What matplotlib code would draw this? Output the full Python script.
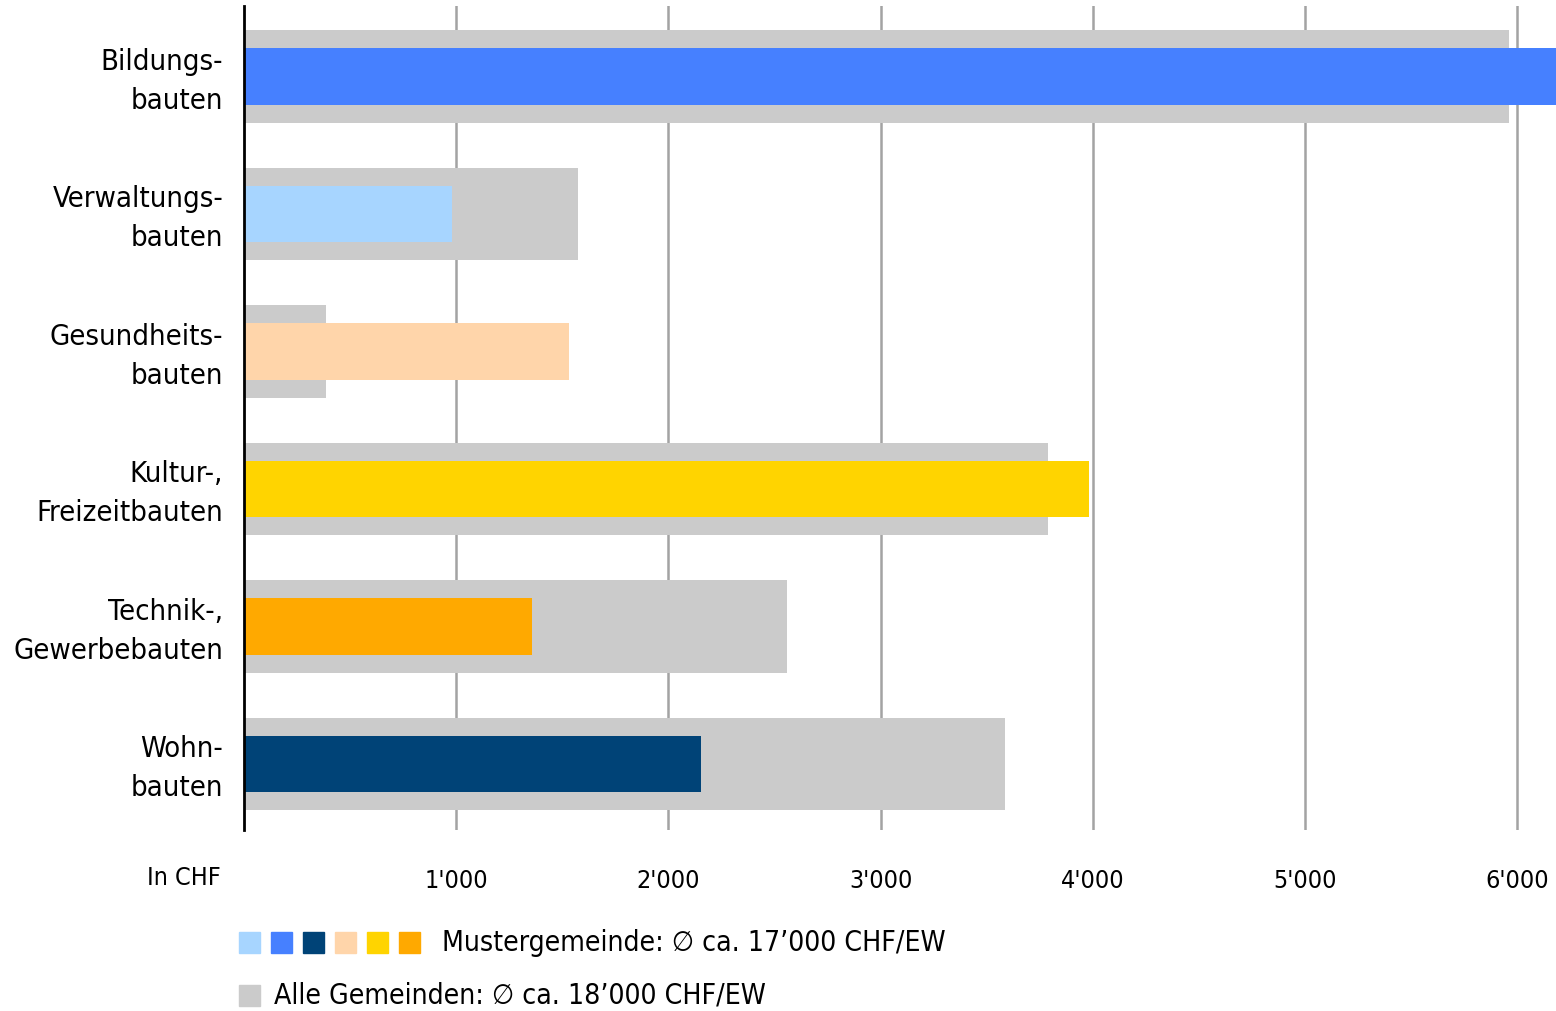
import matplotlib
matplotlib.use("Agg")
import matplotlib.pyplot as plt
import matplotlib.transforms as mtransforms
from matplotlib import font_manager
from matplotlib.patches import Rectangle

# schmale Schrift nehmen, falls vorhanden
schmal = None
for f in font_manager.fontManager.ttflist:
    if f.stretch in ('condensed', 'semi-condensed', 'extra-condensed') or \
            'Narrow' in f.name or 'Condensed' in f.name:
        schmal = f
        break

if schmal is not None:
    plt.rcParams['font.family'] = [schmal.name, 'DejaVu Sans']
    plt.rcParams['font.stretch'] = schmal.stretch
    fs_kat, fs_tick, fs_leg = 21, 18, 20.3
else:
    plt.rcParams['font.family'] = ['Roboto', 'DejaVu Sans']
    fs_kat, fs_tick, fs_leg = 19, 16, 18.5

# Kosten pro Einwohner nach Gebäudekategorie (CHF)
kategorien = ['Bildungs-\nbauten', 'Verwaltungs-\nbauten', 'Gesundheits-\nbauten',
              'Kultur-,\nFreizeitbauten', 'Technik-,\nGewerbebauten', 'Wohn-\nbauten']
alle_gemeinden = [5960, 1575, 385, 3790, 2560, 3585]
mustergemeinde = [6300, 980, 1530, 3980, 1355, 2155]
farben = ['#4680FF', '#A7D5FF', '#FFD5AA', '#FFD400', '#FFA900', '#004377']
grau = '#CBCBCB'

ticks = [1000, 2000, 3000, 4000, 5000, 6000]
tick_labels = ["1'000", "2'000", "3'000", "4'000", "5'000", "6'000"]

legende_farben = ['#A7D5FF', '#4680FF', '#004377', '#FFD5AA', '#FFD400', '#FFA900']
legende_muster = 'Mustergemeinde: \u2205 ca. 17\u2019000 CHF/EW'
legende_alle = 'Alle Gemeinden: \u2205 ca. 18\u2019000 CHF/EW'

W, H = 1556, 1011
fig = plt.figure(figsize=(W / 100, H / 100), dpi=100)
ax = fig.add_axes([244 / W, 1 - 830 / H, 1 - 244 / W, (830 - 6) / H])

y = list(range(len(kategorien)))
ax.barh(y, alle_gemeinden, height=0.67, color=grau, zorder=2)
ax.barh(y, mustergemeinde, height=0.41, color=farben, zorder=3)

ax.set_xlim(0, 6183)
ax.set_ylim(5.48, -0.513)

for t in ticks:
    ax.axvline(t, color='#A3A3A3', linewidth=1.8, zorder=1)

ax.set_yticks(y)
ax.set_yticklabels(kategorien, fontsize=fs_kat, linespacing=1.5)
ax.set_xticks(ticks)
ax.set_xticklabels(tick_labels, fontsize=fs_tick)
ax.tick_params(axis='both', length=0)
ax.tick_params(axis='y', pad=15)
ax.tick_params(axis='x', pad=28)

# Kategorienamen etwas nach oben schieben
hoch = mtransforms.ScaledTranslation(0, 4 / 100, fig.dpi_scale_trans)
for lbl in ax.get_yticklabels():
    lbl.set_transform(lbl.get_transform() + hoch)

for side in ['top', 'right', 'bottom']:
    ax.spines[side].set_visible(False)
ax.spines['left'].set_linewidth(2)
ax.spines['left'].set_color('black')
ax.spines['left'].set_zorder(4)

fig.text(221 / W, 1 - 878 / H, 'In CHF', fontsize=fs_tick, ha='right', va='center')

# Legende
sq = 21
for i, c in enumerate(legende_farben):
    x0 = 239 + i * 32
    fig.patches.append(Rectangle((x0 / W, 1 - 953 / H), sq / W, sq / H,
                                 transform=fig.transFigure, color=c))
fig.text(442 / W, 1 - 943 / H, legende_muster, fontsize=fs_leg, ha='left', va='center')
fig.patches.append(Rectangle((239 / W, 1 - 1006 / H), sq / W, sq / H,
                             transform=fig.transFigure, color=grau))
fig.text(274 / W, 1 - 995 / H, legende_alle, fontsize=fs_leg, ha='left', va='center')

fig.savefig('out.png', dpi=100)
